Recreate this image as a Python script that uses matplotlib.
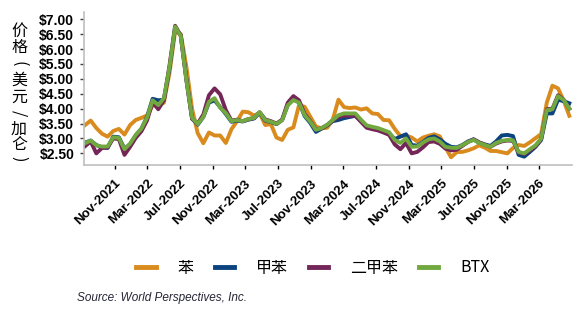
import matplotlib
matplotlib.use("Agg")
import matplotlib.pyplot as plt
import pandas as pd


# three-weekly readings, starting mid July 2021
start_date = "2021-07-13"
n_points = 87

benzene = [
    3.45, 3.60, 3.35, 3.16, 3.06, 3.25, 3.32, 3.13, 3.45, 3.62,
    3.69, 3.77, 4.10, 4.11, 4.20, 5.20, 6.60, 6.50, 5.40, 4.00,
    3.18, 2.84, 3.20, 3.10, 3.10, 2.85, 3.31, 3.58, 3.90, 3.88,
    3.77, 3.85, 3.45, 3.48, 3.03, 2.95, 3.29, 3.37, 4.12, 4.06,
    3.73, 3.40, 3.34, 3.36, 3.64, 4.30, 4.05, 4.02, 4.04, 3.97,
    4.01, 3.84, 3.82, 3.62, 3.61, 3.32, 3.08, 3.10, 3.03, 2.90,
    3.03, 3.09, 3.14, 3.07, 2.70, 2.37, 2.54, 2.55, 2.60, 2.67,
    2.77, 2.69, 2.58, 2.58, 2.54, 2.50, 2.68, 2.78, 2.75, 2.87,
    3.01, 3.15, 4.20, 4.77, 4.68, 4.27, 3.76,
]

toluene = [
    2.86, 2.93, 2.78, 2.70, 2.68, 3.06, 3.04, 2.66, 2.80, 3.10,
    3.32, 3.72, 4.33, 4.28, 4.30, 5.35, 6.72, 6.45, 5.00, 3.68,
    3.46, 3.72, 4.20, 4.28, 4.05, 3.82, 3.56, 3.60, 3.57, 3.63,
    3.67, 3.86, 3.60, 3.55, 3.48, 3.62, 4.13, 4.32, 4.22, 3.75,
    3.52, 3.22, 3.33, 3.44, 3.58, 3.62, 3.68, 3.72, 3.76, 3.60,
    3.40, 3.35, 3.31, 3.24, 3.17, 2.98, 3.06, 3.14, 2.78, 2.76,
    2.88, 3.02, 3.07, 2.97, 2.82, 2.72, 2.70, 2.78, 2.90, 2.97,
    2.86, 2.80, 2.75, 2.90, 3.10, 3.12, 3.08, 2.45, 2.39, 2.55,
    2.72, 2.95, 3.84, 3.84, 4.30, 4.25, 4.18,
]

xylene = [
    2.74, 2.90, 2.50, 2.68, 2.70, 3.00, 2.98, 2.45, 2.72, 3.02,
    3.24, 3.60, 4.22, 3.98, 4.28, 5.45, 6.78, 6.45, 4.95, 3.66,
    3.50, 3.80, 4.45, 4.68, 4.48, 3.95, 3.60, 3.63, 3.58, 3.65,
    3.68, 3.88, 3.64, 3.58, 3.50, 3.63, 4.20, 4.42, 4.28, 3.82,
    3.58, 3.30, 3.34, 3.45, 3.60, 3.72, 3.76, 3.76, 3.76, 3.56,
    3.36, 3.31, 3.27, 3.20, 3.12, 2.80, 2.64, 2.85, 2.50, 2.55,
    2.70, 2.88, 2.90, 2.82, 2.66, 2.60, 2.62, 2.75, 2.88, 2.97,
    2.87, 2.79, 2.72, 2.83, 2.90, 2.93, 2.92, 2.53, 2.48, 2.60,
    2.74, 2.98, 3.98, 4.00, 4.45, 4.30, 4.00,
]

btx = [
    2.84, 2.93, 2.77, 2.73, 2.73, 3.04, 3.02, 2.64, 2.83, 3.12,
    3.33, 3.70, 4.28, 4.12, 4.35, 5.40, 6.75, 6.43, 4.95, 3.70,
    3.48, 3.72, 4.23, 4.35, 4.03, 3.85, 3.58, 3.62, 3.58, 3.65,
    3.69, 3.88, 3.62, 3.56, 3.49, 3.61, 4.11, 4.29, 4.20, 3.78,
    3.56, 3.29, 3.35, 3.46, 3.62, 3.78, 3.84, 3.84, 3.84, 3.63,
    3.44, 3.39, 3.35, 3.28, 3.21, 2.95, 2.85, 3.00, 2.72, 2.73,
    2.86, 2.97, 3.00, 2.90, 2.72, 2.69, 2.68, 2.77, 2.88, 2.95,
    2.85, 2.78, 2.72, 2.85, 2.92, 2.95, 2.94, 2.55, 2.50, 2.64,
    2.77, 3.00, 3.95, 3.98, 4.42, 4.29, 4.00,
]

series_names = ["苯", "甲苯", "二甲苯", "BTX"]
colors = ["#D98B1E", "#0B437F", "#732657", "#71A83F"]

tick_dates = ["2021-11-01", "2022-03-01", "2022-07-01", "2022-11-01",
              "2023-03-01", "2023-07-01", "2023-11-01", "2024-03-01",
              "2024-07-01", "2024-11-01", "2025-03-01", "2025-07-01",
              "2025-11-01", "2026-03-01"]
tick_labels = ["Nov-2021", "Mar-2022", "Jul-2022", "Nov-2022",
               "Mar-2023", "Jul-2023", "Nov-2023", "Mar-2024",
               "Jul-2024", "Nov-2024", "Mar-2025", "Jul-2025",
               "Nov-2025", "Mar-2026"]
y_ticks = [2.5, 3.0, 3.5, 4.0, 4.5, 5.0, 5.5, 6.0, 6.5, 7.0]

# axis title written top to bottom, brackets and slash turned sideways
ylabel_chars = ["价", "格", "(", "美", "元", "/", "加", "仑", ")"]

dates = pd.date_range(start_date, periods=n_points, freq="21D")

fig = plt.figure(figsize=(5.78, 3.17), dpi=100)
ax = fig.add_axes([0.1453, 0.4795, 0.8443, 0.4825])

for vals, name, col in zip([benzene, toluene, xylene, btx], series_names, colors):
    ax.plot(dates, vals, color=col, lw=2.8, label=name)

ax.set_xlim(pd.Timestamp("2021-07-09"), pd.Timestamp("2026-07-03"))
ax.set_ylim(2.11, 7.24)

ax.set_xticks(pd.to_datetime(tick_dates))
ax.set_xticklabels(tick_labels, rotation=45, ha="right", va="top",
                   rotation_mode="anchor", fontsize=9.5, fontweight="bold",
                   family="Liberation Sans")
ax.set_yticks(y_ticks)
ax.set_yticklabels([f"${v:.2f}" for v in y_ticks], fontsize=10,
                   fontweight="bold", family="Liberation Sans")

ax.tick_params(axis="x", length=3, width=1, color="black", pad=6)
ax.tick_params(axis="y", length=3, width=1, color="#404040", pad=4)

for side in ["top", "right"]:
    ax.spines[side].set_visible(False)
for side in ["left", "bottom"]:
    ax.spines[side].set_color("#BFBFBF")
    ax.spines[side].set_linewidth(1.2)

char_y = [31, 47, 64, 80, 97, 113, 129, 145, 159]
for ch, yp in zip(ylabel_chars, char_y):
    rot = -90 if ch in "()/" else 0
    fig.text(19 / 578, 1 - yp / 317, ch, ha="center", va="center",
             rotation=rot, fontsize=11.5, family="Noto Sans CJK SC")

leg = fig.legend(loc="center", bbox_to_anchor=(0.542, 1 - 268 / 317), ncol=4,
                 frameon=False, handlelength=1.2, handletextpad=1.4,
                 columnspacing=1.3,
                 prop={"family": "Noto Sans CJK SC", "size": 11.5})
for line in leg.get_lines():
    line.set_linewidth(3.5)

fig.text(77 / 578, 1 - 298 / 317, "Source: World Perspectives, Inc.",
         ha="left", va="center", fontsize=8.5, style="italic",
         family="Liberation Sans", color="#262636")

fig.savefig("out.png", dpi=100)
